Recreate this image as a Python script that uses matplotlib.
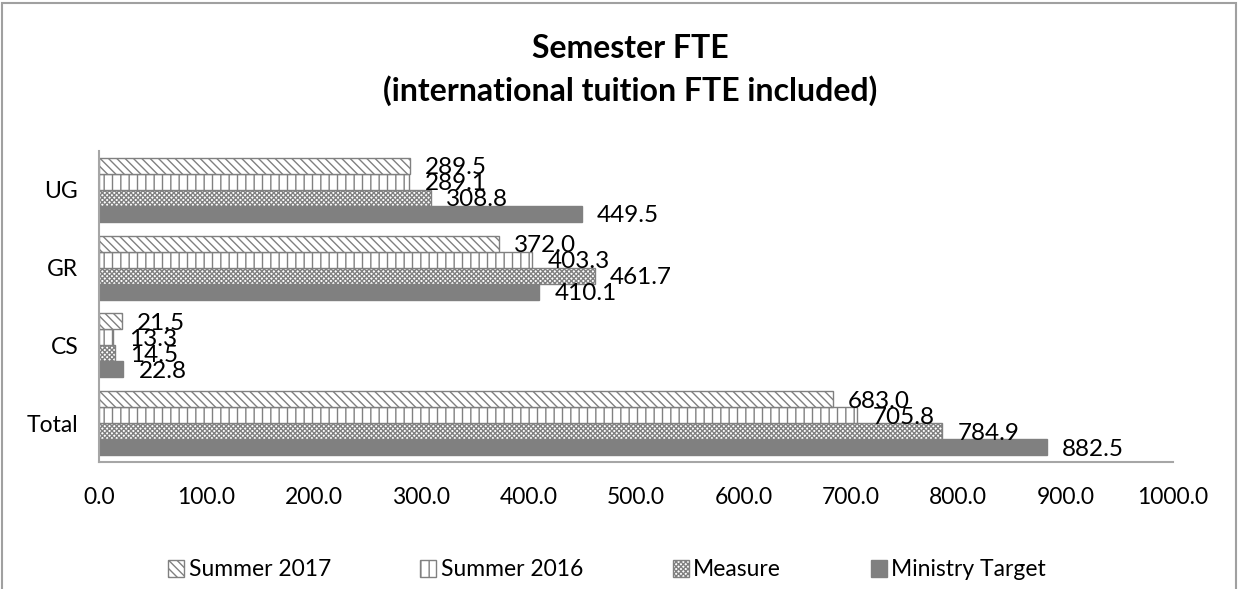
"""Semester FTE — 가로 묶음 막대 차트 (Excel 스타일 재현)."""
import numpy as np
import matplotlib
matplotlib.use("Agg")
import matplotlib.pyplot as plt
from matplotlib.patches import Rectangle, Patch

plt.rcParams["font.family"] = ["Lato", "DejaVu Sans"]
plt.rcParams["hatch.linewidth"] = 1.0

categories = ["Total", "CS", "GR", "UG"]          # 아래 → 위
series_names = ["Ministry Target", "Measure", "Summer 2016", "Summer 2017"]
ministry_target = [882.5, 22.8, 410.1, 449.5]
measure = [784.9, 14.5, 461.7, 308.8]
summer_2016 = [705.8, 13.3, 403.3, 289.1]
summer_2017 = [683.0, 21.5, 372.0, 289.5]
x_ticks = [0, 100, 200, 300, 400, 500, 600, 700, 800, 900, 1000]

_GRAY = "#808080"
_STYLES = {
    "Ministry Target": dict(facecolor=_GRAY, hatch=None),
    "Measure": dict(facecolor="white", hatch="xxxxxxx"),
    "Summer 2016": dict(facecolor="white", hatch="||"),
    "Summer 2017": dict(facecolor="white", hatch="\\\\\\\\"),
}

fig = plt.figure(figsize=(12.39, 5.89), dpi=100)
ax = fig.add_axes([99 / 1239, 127 / 589, 1074 / 1239, 311 / 589])

values = [ministry_target, measure, summer_2016, summer_2017]
y = np.arange(len(categories))
h = 0.206
for i, (name, vals) in enumerate(zip(series_names, values)):
    st = _STYLES[name]
    bars = ax.barh(y + (i - 1.5) * h, vals, height=h,
                   facecolor=st["facecolor"], edgecolor=_GRAY,
                   hatch=st["hatch"], linewidth=1.0, zorder=2)
    for b, v in zip(bars, vals):
        ax.annotate(f"{v:.1f}", (b.get_width(), b.get_y() + b.get_height() / 2),
                    xytext=(11, -1.5), textcoords="offset points",
                    ha="left", va="center", fontsize=17.5, color="black")

ax.set_xlim(0, 1000)
ax.set_ylim(-0.5, 3.5)
ax.set_xticks(x_ticks)
ax.set_xticklabels([f"{t:.1f}" for t in x_ticks])
ax.set_yticks(y)
ax.set_yticklabels(categories)
ax.tick_params(axis="x", length=0, pad=18, labelsize=16.5)
ax.tick_params(axis="y", length=0, pad=15, labelsize=16.5)
for s in ("top", "right"):
    ax.spines[s].set_visible(False)
for s in ("left", "bottom"):
    ax.spines[s].set_color("#a6a6a6")
    ax.spines[s].set_linewidth(1.5)

fig.text(630 / 1239, 1 - 70 / 589, "Semester FTE\n(international tuition FTE included)",
         ha="center", va="center", fontsize=23, fontweight="bold",
         linespacing=1.5)

# 범례 (Excel 순서: Summer 2017 → Ministry Target)
handles = [Patch(facecolor=_STYLES[n]["facecolor"], edgecolor=_GRAY,
                 hatch=_STYLES[n]["hatch"], label=n)
           for n in reversed(series_names)]
fig.legend(handles=handles, loc="center", bbox_to_anchor=(607 / 1239, 1 - 570 / 589),
           ncol=4, frameon=False, fontsize=16.5, handlelength=0.7,
           handleheight=0.7, handletextpad=0.2, columnspacing=3.9)

# 차트 외곽선
fig.patches.append(Rectangle((2 / 1239, -0.1), 1234 / 1239, 1.1 - 3 / 589,
                             transform=fig.transFigure, fill=False,
                             edgecolor="#a0a0a0", linewidth=1.5))

fig.savefig("out.png", dpi=100)
